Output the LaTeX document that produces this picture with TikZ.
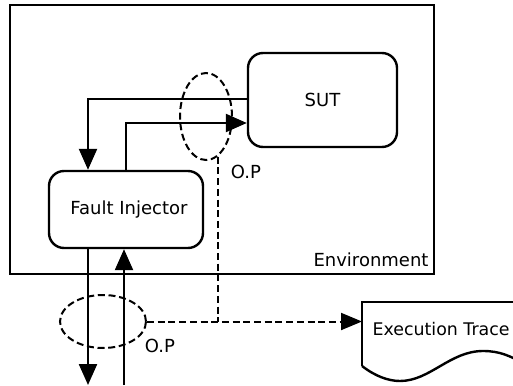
\documentclass[tikz,border=0pt]{standalone}
\usepackage{fontspec}
\setmainfont{DejaVu Sans}
\usepackage{tikz}
\usetikzlibrary{arrows.meta,positioning,calc,shapes.geometric}

\begin{document}
\begin{tikzpicture}[x=1pt,y=-1pt,
    every node/.style={font=\fontsize{18}{21.6}\selectfont},
    block/.style={draw, line width=2.4pt, rounded corners=15pt, inner sep=0pt},
    opring/.style={draw, ellipse, dash pattern=on 7pt off 3.7pt, line width=2pt, inner sep=0pt},
    flow/.style={line width=2.3pt, -{Triangle[length=21pt,width=18pt]}},
    tap/.style={line width=2pt, dash pattern=on 7pt off 3.7pt, -{Triangle[length=21pt,width=17pt]}}]
    \clip (0,0) rectangle (513,385);

    % Draw environment and blocks
    \node[draw, line width=2.4pt, minimum width=424pt, minimum height=269pt, inner sep=0pt] (env) at (222,139.5) {};
    \node[anchor=base east] (envlabel) at (432,266) {Environment};
    \node[block, minimum width=149pt, minimum height=94pt] (sut) at (322.5,100) {SUT};
    \node[block, minimum width=154pt, minimum height=77pt] (fi) at (126,209.5) {\hspace{6pt}Fault Injector};

    % Draw observation points
    \node[opring, minimum width=52pt, minimum height=87pt] (op1) at (206,116.5) {};
    \node[opring, minimum width=86pt, minimum height=53pt] (op2) at (103,321.5) {};
    \node (oplabel1) at (246,172) {O.P};
    \node (oplabel2) at (160,346) {O.P};

    % Draw execution trace document
    \draw[line width=2.4pt] (362,366) -- (362,302) -- (530,302);
    \draw[line width=2.4pt] (362,366) .. controls (375,376) and (388,381) .. (400,381)
        .. controls (430,381) and (450,351) .. (483,351)
        .. controls (500,351) and (510,356) .. (525,364);
    \coordinate (trace) at (362,321.5);
    \node[anchor=base west, font=\fontsize{17.4}{20}\selectfont] (tracelabel) at (369,335) {Execution Trace};

    % Draw connections
    \coordinate (out) at (88,385);
    \coordinate (in) at (124,385);
    \draw[flow] ([yshift=1pt]sut.west) -| ([xshift=-38pt]fi.north);
    \draw[flow] (fi.north) |- ([yshift=-23pt]sut.west);
    \draw[flow] ([xshift=-38pt]fi.south) -- (out);
    \draw[flow] (in) -- ([xshift=-2pt]fi.south);

    % Draw trace taps
    \draw[tap] (op2.east) -- (trace);
    \draw[line width=2pt, dash pattern=on 7pt off 3.7pt] (op1.-74) -- (op1.-74 |- op2.east);
\end{tikzpicture}
\end{document}
